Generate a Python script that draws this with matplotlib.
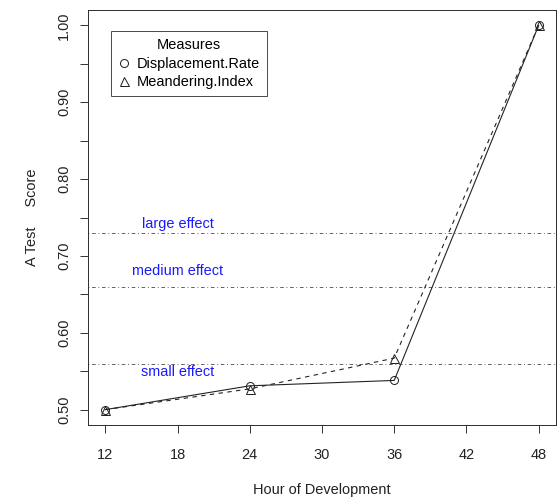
import matplotlib
matplotlib.use("Agg")
import matplotlib.pyplot as plt
from matplotlib.lines import Line2D

plt.rcParams['font.family'] = ['Liberation Sans', 'DejaVu Sans']

hours = [12, 24, 36, 48]
displacement_rate = [0.500, 0.531, 0.538, 1.000]
meandering_index = [0.500, 0.527, 0.567, 1.000]

effect_levels = [0.73, 0.66, 0.56]
effect_names = ["large effect", "medium effect", "small effect"]
effect_label_y = [0.741, 0.680, 0.549]

x_ticks = [12, 18, 24, 30, 36, 42, 48]
y_ticks = [0.50, 0.55, 0.60, 0.65, 0.70, 0.75, 0.80, 0.85, 0.90, 0.95, 1.00]
y_labels = ["0.50", "", "0.60", "", "0.70", "", "0.80", "", "0.90", "", "1.00"]

FS = 14.5
W, H = 558, 497
fig = plt.figure(figsize=(W / 72, H / 72), dpi=72)
ax = fig.add_axes([88 / W, (H - 425) / H, (556 - 88) / W, (425 - 10) / H])

# reference effect-size thresholds
for lvl, name, ly in zip(effect_levels, effect_names, effect_label_y):
    ax.axhline(lvl, color='#555555', lw=0.9, linestyle=(0, (1, 3, 4, 3)), zorder=1)
    ax.text(18, ly, name, color='#1a1aff', fontsize=FS, ha='center', va='center')

ax.plot(hours, displacement_rate, color='#222222', lw=1.1, linestyle='-',
        marker='o', markersize=8, markerfacecolor='none', markeredgewidth=1.0, zorder=3)
ax.plot(hours, meandering_index, color='#222222', lw=1.1, linestyle=(0, (4, 4)),
        marker='^', markersize=9, markerfacecolor='none', markeredgewidth=1.0, zorder=3)

ax.set_xlim(10.56, 49.44)
ax.set_ylim(0.48, 1.02)
ax.set_xticks(x_ticks)
ax.set_xticklabels([str(t) for t in x_ticks])
ax.set_yticks(y_ticks)
ax.set_yticklabels(y_labels, rotation=90, va='center')
ax.tick_params(axis='both', direction='out', length=8, width=0.9, labelsize=FS, colors='#222222')
ax.tick_params(axis='x', pad=15)
ax.tick_params(axis='y', pad=9)
for s in ax.spines.values():
    s.set_linewidth(1.0)
    s.set_color('#333333')

ax.set_xlabel("Hour of Development", fontsize=FS, labelpad=21, color='#222222')
ax.set_ylabel("A Test     Score", fontsize=FS, labelpad=18, color='#222222')

handles = [
    Line2D([], [], linestyle='none', marker='o', markersize=8, markerfacecolor='none',
           markeredgecolor='#222222', markeredgewidth=1.0),
    Line2D([], [], linestyle='none', marker='^', markersize=9, markerfacecolor='none',
           markeredgecolor='#222222', markeredgewidth=1.0),
]
leg = ax.legend(handles, ["Displacement.Rate", "Meandering.Index"], title="Measures",
                loc='upper left', bbox_to_anchor=(0.049, 0.949), fontsize=FS,
                title_fontsize=FS, frameon=True, fancybox=False, handlelength=0.8,
                handletextpad=0.45, borderpad=0.5, labelspacing=0.3, borderaxespad=0)
leg.get_frame().set_edgecolor('#222222')
leg.get_frame().set_linewidth(1.0)

fig.savefig("out.png", dpi=72)
